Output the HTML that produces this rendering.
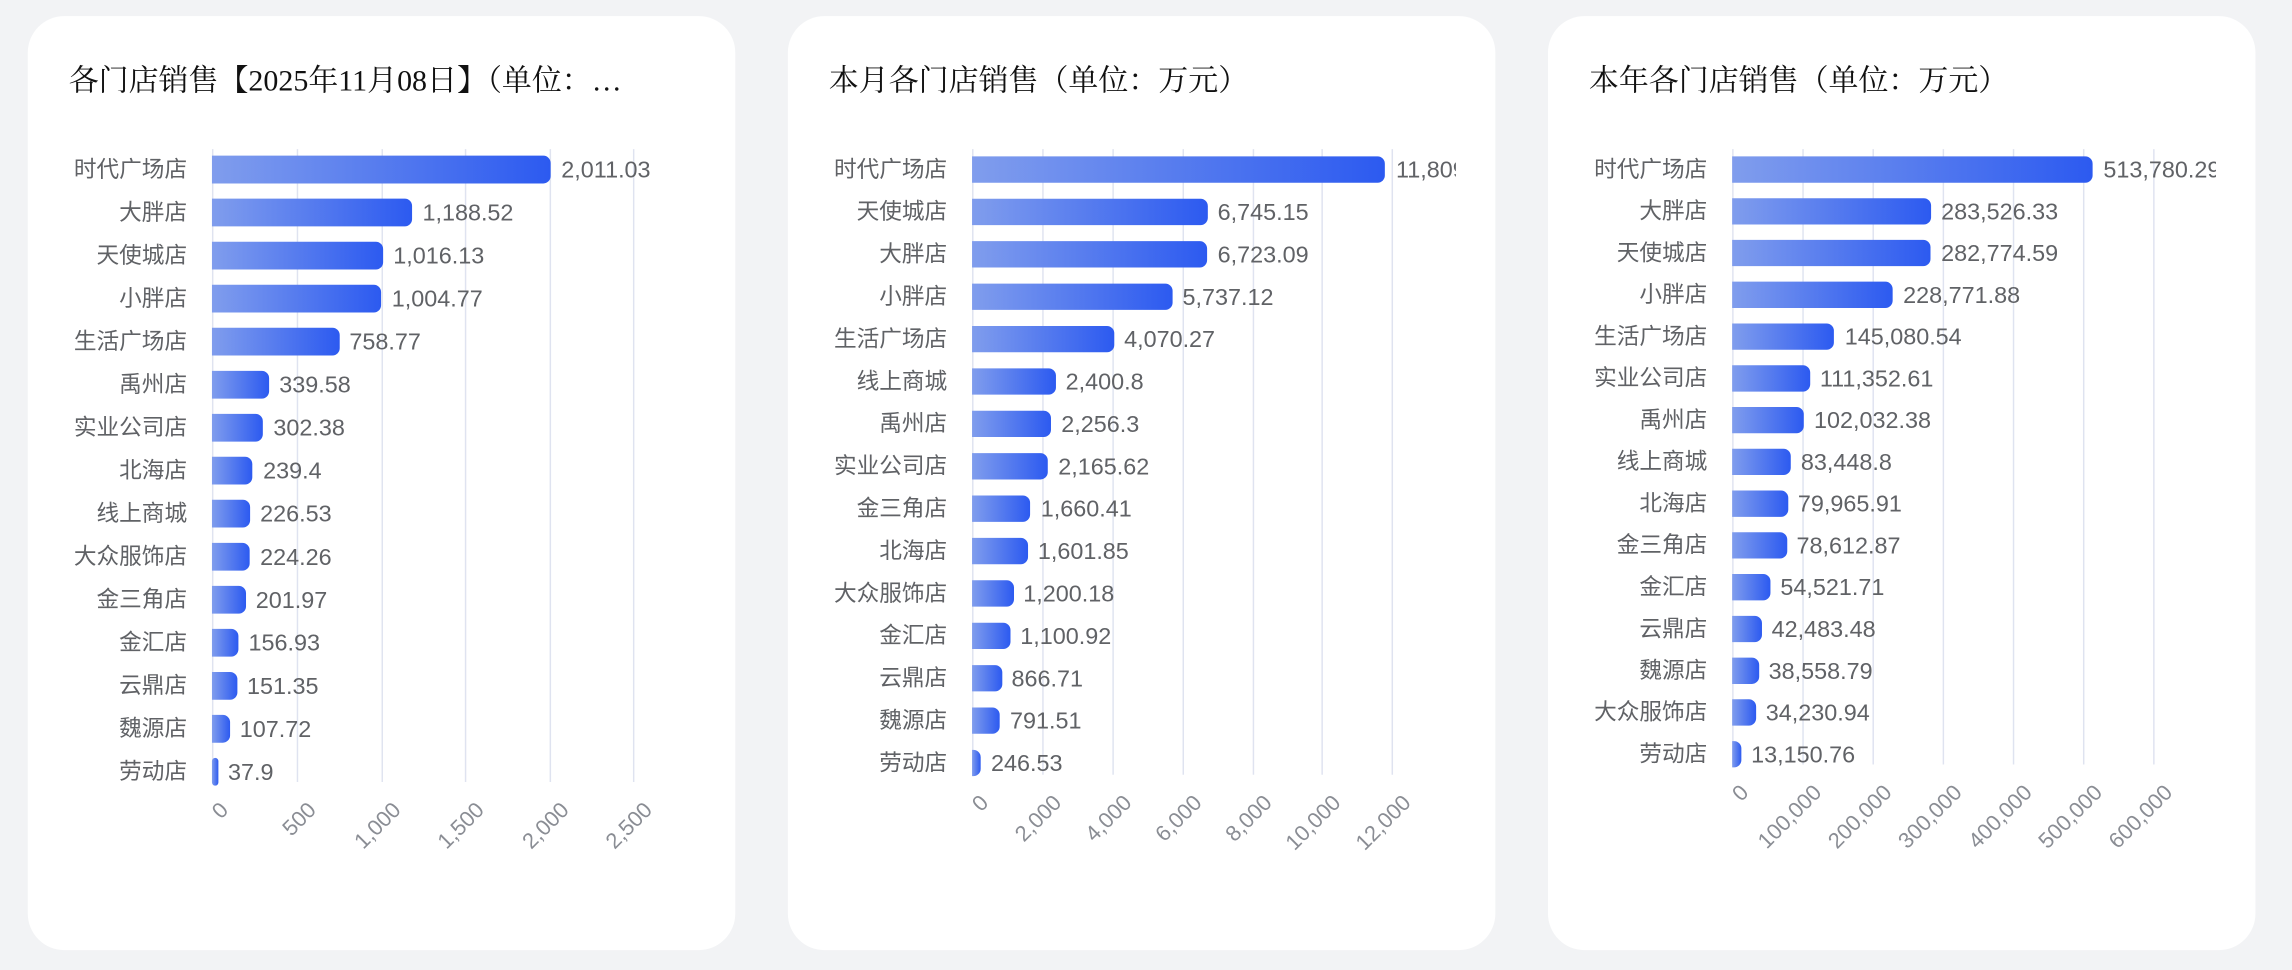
<!DOCTYPE html>
<html><head><meta charset="utf-8"><style>
html,body{margin:0;padding:0;background:#f2f3f5;width:2292px;height:970px;overflow:hidden}
svg{display:block}
.t{font-family:"Liberation Serif","Noto Serif CJK SC",serif;font-size:20.5px;fill:#111}
.l{font-family:"Liberation Sans","Noto Sans CJK SC",sans-serif;font-size:15.5px;fill:#606266;text-anchor:end}
.v{font-family:"Liberation Sans","Noto Sans CJK SC",sans-serif;font-size:16px;fill:#606266}
.a{font-family:"Liberation Sans","Noto Sans CJK SC",sans-serif;font-size:15px;fill:#8a8d94;text-anchor:end}
.g{stroke:#dfe3f0;stroke-width:1}
</style></head><body>
<svg width="2292" height="970" viewBox="0 0 1568 663.6" xmlns="http://www.w3.org/2000/svg">
<defs>
<linearGradient id="gr" x1="0" x2="1" y1="0" y2="0"><stop offset="0" stop-color="#809ded"/><stop offset="1" stop-color="#2c5af0"/></linearGradient>
<clipPath id="c1"><rect x="19" y="0" width="458" height="664"/></clipPath>
<clipPath id="c2"><rect x="539" y="0" width="457" height="664"/></clipPath>
<clipPath id="c3"><rect x="1059" y="0" width="457" height="664"/></clipPath>
</defs>
<rect x="19" y="11" width="484" height="639" rx="25" fill="#fff"/>
<rect x="539" y="11" width="484" height="639" rx="25" fill="#fff"/>
<rect x="1059" y="11" width="484" height="639" rx="25" fill="#fff"/>
<text class="t" x="47" y="62">各门店销售【2025年11月08日】（单位：…</text>
<text class="t" x="567" y="62">本月各门店销售（单位：万元）</text>
<text class="t" x="1087" y="62">本年各门店销售（单位：万元）</text>

<!-- chart 1 -->
<g clip-path="url(#c1)">
<g class="g">
<line x1="145.5" y1="102" x2="145.5" y2="535"/><line x1="203.5" y1="102" x2="203.5" y2="535"/><line x1="261.5" y1="102" x2="261.5" y2="535"/><line x1="318.5" y1="102" x2="318.5" y2="535"/><line x1="376.5" y1="102" x2="376.5" y2="535"/><line x1="433.5" y1="102" x2="433.5" y2="535"/>
</g>
<g fill="url(#gr)">
<path d="M145 106.5h226.7a5 5 0 0 1 5 5v9a5 5 0 0 1 -5 5h-226.7z"/>
<path d="M145 135.9h131.9a5 5 0 0 1 5 5v9a5 5 0 0 1 -5 5h-131.9z"/>
<path d="M145 165.4h112.1a5 5 0 0 1 5 5v9a5 5 0 0 1 -5 5h-112.1z"/>
<path d="M145 194.8h110.7a5 5 0 0 1 5 5v9a5 5 0 0 1 -5 5h-110.7z"/>
<path d="M145 224.2h82.4a5 5 0 0 1 5 5v9a5 5 0 0 1 -5 5h-82.4z"/>
<path d="M145 253.7h34.1a5 5 0 0 1 5 5v9a5 5 0 0 1 -5 5h-34.1z"/>
<path d="M145 283.1h29.8a5 5 0 0 1 5 5v9a5 5 0 0 1 -5 5h-29.8z"/>
<path d="M145 312.5h22.6a5 5 0 0 1 5 5v9a5 5 0 0 1 -5 5h-22.6z"/>
<path d="M145 341.9h21.1a5 5 0 0 1 5 5v9a5 5 0 0 1 -5 5h-21.1z"/>
<path d="M145 371.4h20.8a5 5 0 0 1 5 5v9a5 5 0 0 1 -5 5h-20.8z"/>
<path d="M145 400.8h18.3a5 5 0 0 1 5 5v9a5 5 0 0 1 -5 5h-18.3z"/>
<path d="M145 430.2h13.1a5 5 0 0 1 5 5v9a5 5 0 0 1 -5 5h-13.1z"/>
<path d="M145 459.7h12.4a5 5 0 0 1 5 5v9a5 5 0 0 1 -5 5h-12.4z"/>
<path d="M145 489.1h7.4a5 5 0 0 1 5 5v9a5 5 0 0 1 -5 5h-7.4z"/>
<rect x="145" y="518.5" width="4.4" height="19" rx="2.2"/>
</g>
<text class="l" x="128" y="121">时代广场店</text><text class="v" x="384" y="121.5">2,011.03</text>
<text class="l" x="128" y="150.4">大胖店</text><text class="v" x="289" y="150.9">1,188.52</text>
<text class="l" x="128" y="179.9">天使城店</text><text class="v" x="269" y="180.4">1,016.13</text>
<text class="l" x="128" y="209.3">小胖店</text><text class="v" x="268" y="209.8">1,004.77</text>
<text class="l" x="128" y="238.7">生活广场店</text><text class="v" x="239" y="239.2">758.77</text>
<text class="l" x="128" y="268.2">禹州店</text><text class="v" x="191" y="268.7">339.58</text>
<text class="l" x="128" y="297.6">实业公司店</text><text class="v" x="187" y="298.1">302.38</text>
<text class="l" x="128" y="327">北海店</text><text class="v" x="180" y="327.5">239.4</text>
<text class="l" x="128" y="356.4">线上商城</text><text class="v" x="178" y="356.9">226.53</text>
<text class="l" x="128" y="385.9">大众服饰店</text><text class="v" x="178" y="386.4">224.26</text>
<text class="l" x="128" y="415.3">金三角店</text><text class="v" x="175" y="415.8">201.97</text>
<text class="l" x="128" y="444.7">金汇店</text><text class="v" x="170" y="445.2">156.93</text>
<text class="l" x="128" y="474.2">云鼎店</text><text class="v" x="169" y="474.7">151.35</text>
<text class="l" x="128" y="503.6">魏源店</text><text class="v" x="164" y="504.1">107.72</text>
<text class="l" x="128" y="533">劳动店</text><text class="v" x="156" y="533.5">37.9</text>
<text class="a" transform="translate(157,555) rotate(-45)">0</text>
<text class="a" transform="translate(217,555) rotate(-45)">500</text>
<text class="a" transform="translate(275,555) rotate(-45)">1,000</text>
<text class="a" transform="translate(332,555) rotate(-45)">1,500</text>
<text class="a" transform="translate(390,555) rotate(-45)">2,000</text>
<text class="a" transform="translate(447,555) rotate(-45)">2,500</text>
</g>

<!-- chart 2 -->
<g clip-path="url(#c2)">
<g class="g">
<line x1="665.5" y1="102" x2="665.5" y2="530"/><line x1="713.5" y1="102" x2="713.5" y2="530"/><line x1="761.5" y1="102" x2="761.5" y2="530"/><line x1="809.5" y1="102" x2="809.5" y2="530"/><line x1="857.5" y1="102" x2="857.5" y2="530"/><line x1="904.5" y1="102" x2="904.5" y2="530"/><line x1="952.5" y1="102" x2="952.5" y2="530"/>
</g>
<g fill="url(#gr)">
<path d="M665 107h277.4a5 5 0 0 1 5 5v8a5 5 0 0 1 -5 5h-277.4z"/>
<path d="M665 136h156.3a5 5 0 0 1 5 5v8a5 5 0 0 1 -5 5h-156.3z"/>
<path d="M665 165h155.8a5 5 0 0 1 5 5v8a5 5 0 0 1 -5 5h-155.8z"/>
<path d="M665 194h132.2a5 5 0 0 1 5 5v8a5 5 0 0 1 -5 5h-132.2z"/>
<path d="M665 223h92.3a5 5 0 0 1 5 5v8a5 5 0 0 1 -5 5h-92.3z"/>
<path d="M665 252h52.4a5 5 0 0 1 5 5v8a5 5 0 0 1 -5 5h-52.4z"/>
<path d="M665 281h49a5 5 0 0 1 5 5v8a5 5 0 0 1 -5 5h-49z"/>
<path d="M665 310h46.8a5 5 0 0 1 5 5v8a5 5 0 0 1 -5 5h-46.8z"/>
<path d="M665 339h34.7a5 5 0 0 1 5 5v8a5 5 0 0 1 -5 5h-34.7z"/>
<path d="M665 368h33.3a5 5 0 0 1 5 5v8a5 5 0 0 1 -5 5h-33.3z"/>
<path d="M665 397h23.7a5 5 0 0 1 5 5v8a5 5 0 0 1 -5 5h-23.7z"/>
<path d="M665 426h21.3a5 5 0 0 1 5 5v8a5 5 0 0 1 -5 5h-21.3z"/>
<path d="M665 455h15.7a5 5 0 0 1 5 5v8a5 5 0 0 1 -5 5h-15.7z"/>
<path d="M665 484h13.9a5 5 0 0 1 5 5v8a5 5 0 0 1 -5 5h-13.9z"/>
<path d="M665 513h0.9a5 5 0 0 1 5 5v8a5 5 0 0 1 -5 5h-0.9z"/>
</g>
<text class="l" x="648" y="121">时代广场店</text><text class="v" x="955" y="121.5">11,809</text>
<text class="l" x="648" y="150">天使城店</text><text class="v" x="833" y="150.5">6,745.15</text>
<text class="l" x="648" y="179">大胖店</text><text class="v" x="833" y="179.5">6,723.09</text>
<text class="l" x="648" y="208">小胖店</text><text class="v" x="809" y="208.5">5,737.12</text>
<text class="l" x="648" y="237">生活广场店</text><text class="v" x="769" y="237.5">4,070.27</text>
<text class="l" x="648" y="266">线上商城</text><text class="v" x="729" y="266.5">2,400.8</text>
<text class="l" x="648" y="295">禹州店</text><text class="v" x="726" y="295.5">2,256.3</text>
<text class="l" x="648" y="324">实业公司店</text><text class="v" x="724" y="324.5">2,165.62</text>
<text class="l" x="648" y="353">金三角店</text><text class="v" x="712" y="353.5">1,660.41</text>
<text class="l" x="648" y="382">北海店</text><text class="v" x="710" y="382.5">1,601.85</text>
<text class="l" x="648" y="411">大众服饰店</text><text class="v" x="700" y="411.5">1,200.18</text>
<text class="l" x="648" y="440">金汇店</text><text class="v" x="698" y="440.5">1,100.92</text>
<text class="l" x="648" y="469">云鼎店</text><text class="v" x="692" y="469.5">866.71</text>
<text class="l" x="648" y="498">魏源店</text><text class="v" x="691" y="498.5">791.51</text>
<text class="l" x="648" y="527">劳动店</text><text class="v" x="678" y="527.5">246.53</text>
<text class="a" transform="translate(677,550) rotate(-45)">0</text>
<text class="a" transform="translate(727,550) rotate(-45)">2,000</text>
<text class="a" transform="translate(775,550) rotate(-45)">4,000</text>
<text class="a" transform="translate(823,550) rotate(-45)">6,000</text>
<text class="a" transform="translate(871,550) rotate(-45)">8,000</text>
<text class="a" transform="translate(918,550) rotate(-45)">10,000</text>
<text class="a" transform="translate(966,550) rotate(-45)">12,000</text>
</g>

<!-- chart 3 -->
<g clip-path="url(#c3)">
<g class="g">
<line x1="1185.5" y1="102" x2="1185.5" y2="523"/><line x1="1233.5" y1="102" x2="1233.5" y2="523"/><line x1="1281.5" y1="102" x2="1281.5" y2="523"/><line x1="1329.5" y1="102" x2="1329.5" y2="523"/><line x1="1377.5" y1="102" x2="1377.5" y2="523"/><line x1="1425.5" y1="102" x2="1425.5" y2="523"/><line x1="1473.5" y1="102" x2="1473.5" y2="523"/>
</g>
<g fill="url(#gr)">
<path d="M1185 107h241.6a5 5 0 0 1 5 5v8a5 5 0 0 1 -5 5h-241.6z"/>
<path d="M1185 135.6h131.1a5 5 0 0 1 5 5v8a5 5 0 0 1 -5 5h-131.1z"/>
<path d="M1185 164.1h130.7a5 5 0 0 1 5 5v8a5 5 0 0 1 -5 5h-130.7z"/>
<path d="M1185 192.7h104.8a5 5 0 0 1 5 5v8a5 5 0 0 1 -5 5h-104.8z"/>
<path d="M1185 221.3h64.6a5 5 0 0 1 5 5v8a5 5 0 0 1 -5 5h-64.6z"/>
<path d="M1185 249.9h48.4a5 5 0 0 1 5 5v8a5 5 0 0 1 -5 5h-48.4z"/>
<path d="M1185 278.4h44a5 5 0 0 1 5 5v8a5 5 0 0 1 -5 5h-44z"/>
<path d="M1185 307h35.1a5 5 0 0 1 5 5v8a5 5 0 0 1 -5 5h-35.1z"/>
<path d="M1185 335.6h33.4a5 5 0 0 1 5 5v8a5 5 0 0 1 -5 5h-33.4z"/>
<path d="M1185 364.1h32.7a5 5 0 0 1 5 5v8a5 5 0 0 1 -5 5h-32.7z"/>
<path d="M1185 392.7h21.2a5 5 0 0 1 5 5v8a5 5 0 0 1 -5 5h-21.2z"/>
<path d="M1185 421.3h15.4a5 5 0 0 1 5 5v8a5 5 0 0 1 -5 5h-15.4z"/>
<path d="M1185 449.9h13.5a5 5 0 0 1 5 5v8a5 5 0 0 1 -5 5h-13.5z"/>
<path d="M1185 478.4h11.4a5 5 0 0 1 5 5v8a5 5 0 0 1 -5 5h-11.4z"/>
<path d="M1185 507h1.3a5 5 0 0 1 5 5v8a5 5 0 0 1 -5 5h-1.3z"/>
</g>
<text class="l" x="1168" y="121">时代广场店</text><text class="v" x="1439" y="121.5">513,780.29</text>
<text class="l" x="1168" y="149.6">大胖店</text><text class="v" x="1328" y="150.1">283,526.33</text>
<text class="l" x="1168" y="178.1">天使城店</text><text class="v" x="1328" y="178.6">282,774.59</text>
<text class="l" x="1168" y="206.7">小胖店</text><text class="v" x="1302" y="207.2">228,771.88</text>
<text class="l" x="1168" y="235.3">生活广场店</text><text class="v" x="1262" y="235.8">145,080.54</text>
<text class="l" x="1168" y="263.9">实业公司店</text><text class="v" x="1245" y="264.4">111,352.61</text>
<text class="l" x="1168" y="292.4">禹州店</text><text class="v" x="1241" y="292.9">102,032.38</text>
<text class="l" x="1168" y="321">线上商城</text><text class="v" x="1232" y="321.5">83,448.8</text>
<text class="l" x="1168" y="349.6">北海店</text><text class="v" x="1230" y="350.1">79,965.91</text>
<text class="l" x="1168" y="378.1">金三角店</text><text class="v" x="1229" y="378.6">78,612.87</text>
<text class="l" x="1168" y="406.7">金汇店</text><text class="v" x="1218" y="407.2">54,521.71</text>
<text class="l" x="1168" y="435.3">云鼎店</text><text class="v" x="1212" y="435.8">42,483.48</text>
<text class="l" x="1168" y="463.9">魏源店</text><text class="v" x="1210" y="464.4">38,558.79</text>
<text class="l" x="1168" y="492.4">大众服饰店</text><text class="v" x="1208" y="492.9">34,230.94</text>
<text class="l" x="1168" y="521">劳动店</text><text class="v" x="1198" y="521.5">13,150.76</text>
<text class="a" transform="translate(1197,543) rotate(-45)">0</text>
<text class="a" transform="translate(1247,543) rotate(-45)">100,000</text>
<text class="a" transform="translate(1295,543) rotate(-45)">200,000</text>
<text class="a" transform="translate(1343,543) rotate(-45)">300,000</text>
<text class="a" transform="translate(1391,543) rotate(-45)">400,000</text>
<text class="a" transform="translate(1439,543) rotate(-45)">500,000</text>
<text class="a" transform="translate(1487,543) rotate(-45)">600,000</text>
</g>
</svg>
</body></html>
